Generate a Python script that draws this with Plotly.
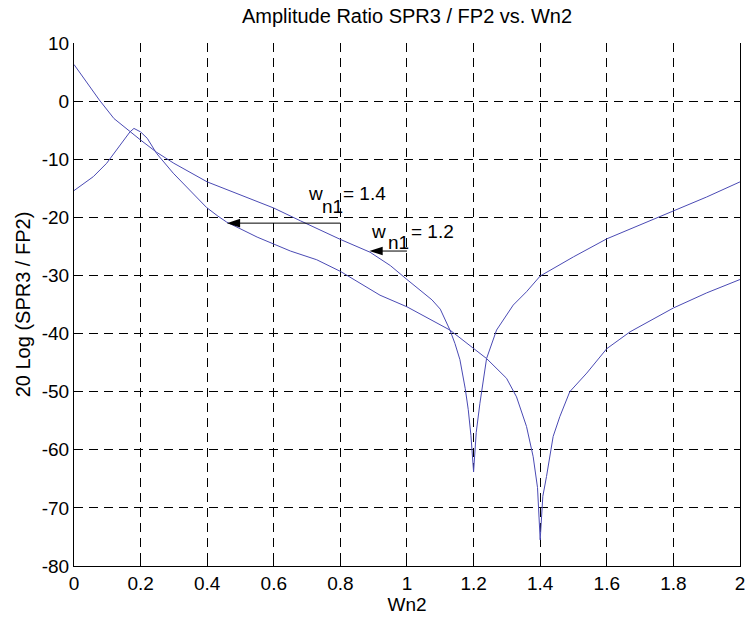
import plotly.graph_objects as go

# ---- data ----
wn2_a = [0, 0.04, 0.076, 0.12, 0.168, 0.2, 0.248, 0.3, 0.4, 0.5, 0.6, 0.68, 0.8, 0.889,
         0.95, 1.0, 1.05, 1.075, 1.1, 1.129, 1.144, 1.159, 1.175, 1.184, 1.192, 1.2,
         1.208, 1.219, 1.239, 1.269, 1.319, 1.359, 1.4, 1.5, 1.6, 1.7, 1.8, 1.9, 2.0]
amp_a = [6.3, 3.0, 0.2, -3.0, -5.3, -6.7, -8.8, -10.7, -13.9, -16.2, -18.4, -20.6,
         -23.8, -26.0, -28.3, -30.7, -33.0, -34.2, -35.8, -39.4, -41.7, -44.5, -49.5,
         -53.1, -57.5, -63.8, -57.0, -52.0, -44.3, -39.4, -35.1, -32.8, -30.1, -26.8,
         -23.7, -21.3, -19.0, -16.5, -13.9]

wn2_b = [0, 0.058, 0.098, 0.138, 0.168, 0.18, 0.2, 0.22, 0.248, 0.298, 0.35, 0.398,
         0.43, 0.458, 0.55, 0.65, 0.729, 0.8, 0.919, 1.0, 1.129, 1.2, 1.239, 1.299,
         1.329, 1.359, 1.379, 1.392, 1.4, 1.408, 1.419, 1.439, 1.459, 1.489, 1.54, 1.6,
         1.67, 1.8, 1.9, 2.0]
amp_b = [-15.4, -13.0, -10.7, -7.5, -5.3, -4.7, -5.3, -6.4, -9.0, -12.4, -15.4, -18.3,
         -19.7, -20.8, -23.4, -25.8, -27.3, -29.3, -33.4, -35.4, -39.4, -42.5, -44.3,
         -47.7, -50.9, -56.0, -61.2, -66.5, -75.5, -68.0, -64.6, -57.7, -54.3, -50.0,
         -46.8, -42.6, -39.7, -35.6, -33.0, -30.7]

x_ticks = [0, 0.2, 0.4, 0.6, 0.8, 1, 1.2, 1.4, 1.6, 1.8, 2]
y_ticks = [10, 0, -10, -20, -30, -40, -50, -60, -70, -80]

# curve labels: value of w_n1 and the arrow that points at its curve
label_values = ["1.4", "1.2"]
arrow_head_x = [0.459, 0.887]
arrow_tail_x = [0.80, 1.00]
arrow_y = [-21.0, -25.8]

# layout positions of the label pieces (data coords): w, n1 subscript, "= value"
label_pos = [
    dict(w=(0.700, -15.9), sub=(0.742, -18.1), eq=(0.806, -15.9)),
    dict(w=(0.889, -22.4), sub=(0.940, -24.4), eq=(1.009, -22.4)),
]

LINE = "#4a4ab4"
FONT = "Arial, Liberation Sans, Helvetica, sans-serif"
FS = 19

fig = go.Figure()
fig.add_trace(go.Scatter(x=wn2_a, y=amp_a, mode="lines",
                         line=dict(color=LINE, width=1), showlegend=False,
                         hoverinfo="skip"))
fig.add_trace(go.Scatter(x=wn2_b, y=amp_b, mode="lines",
                         line=dict(color=LINE, width=1), showlegend=False,
                         hoverinfo="skip"))

for val, hx, tx, ay, pos in zip(label_values, arrow_head_x, arrow_tail_x, arrow_y, label_pos):
    fig.add_trace(go.Scatter(
        x=[tx, hx], y=[ay, ay], mode="lines+markers",
        line=dict(color="black", width=1),
        marker=dict(symbol="arrow", angleref="previous", size=14, color="black"),
        showlegend=False, hoverinfo="skip"))
    for key, txt in (("w", "w"), ("sub", "n1"), ("eq", "= " + val)):
        px, py = pos[key]
        fig.add_annotation(x=px, y=py, xref="x", yref="y", text=txt, showarrow=False,
                           xanchor="left", yanchor="middle", borderpad=0,
                           font=dict(family=FONT, size=FS, color="black"))

fig.update_layout(
    width=747, height=620,
    margin=dict(l=74, r=7, t=43, b=54),
    paper_bgcolor="white", plot_bgcolor="white",
    font=dict(family=FONT, size=FS, color="black"),
    title=dict(text="Amplitude Ratio SPR3 / FP2 vs. Wn2", x=0.5, xref="paper",
               y=1 - 16 / 620, yref="container", xanchor="center", yanchor="middle",
               font=dict(family=FONT, size=20, color="black")),
)
fig.update_xaxes(
    range=[0, 2.0001], tickvals=x_ticks, ticktext=[f"{v:g}" for v in x_ticks],
    ticks="inside", ticklen=6, tickcolor="black",
    showline=True, linecolor="black", linewidth=1, mirror=False,
    showgrid=True, gridcolor="black", gridwidth=1, griddash="9px,6px",
    zeroline=False, tickfont=dict(size=FS), automargin=False,
    title=dict(text="Wn2", font=dict(size=FS), standoff=4),
)
fig.update_yaxes(
    range=[-80, 10], tickvals=y_ticks, ticktext=[f"{v:d}" for v in y_ticks],
    ticks="inside", ticklen=6, tickcolor="black",
    showline=True, linecolor="black", linewidth=1, mirror="ticks",
    showgrid=True, gridcolor="black", gridwidth=1, griddash="9px,6px",
    zeroline=False, tickfont=dict(size=FS), automargin=False,
    title=dict(text="20 Log (SPR3 / FP2)", font=dict(size=20), standoff=5),
)

fig.write_html("out.html",
               config={"displayModeBar": False},
               post_script="document.body.style.margin='0px';"
                           "document.body.style.overflow='hidden';")
